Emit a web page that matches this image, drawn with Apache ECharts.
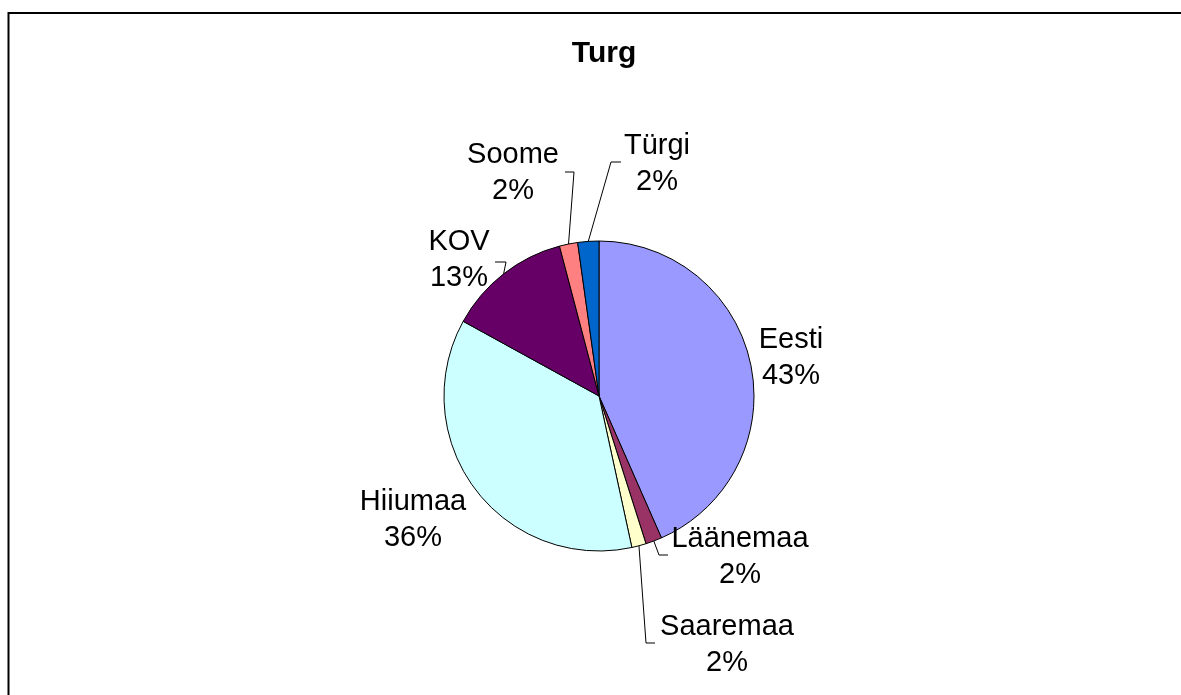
<!DOCTYPE html>
<html>
<head>
<meta charset="utf-8">
<script src="https://cdn.jsdelivr.net/npm/echarts@6/dist/echarts.min.js"></script>
<style>
  html, body { margin: 0; padding: 0; background: #fff; }
  #chart { width: 1181px; height: 695px; }
</style>
</head>
<body>
<div id="chart"></div>
<script>
// data (share of total, %)
const names = ['Eesti', 'Läänemaa', 'Saaremaa', 'Hiiumaa', 'KOV', 'Soome', 'Türgi']
const shares = [43.4, 1.7, 1.5, 36.4, 12.9, 1.9, 2.2]
const colors = ['#9999FF', '#993366', '#FFFFCC', '#CCFFFF', '#660066', '#FF8080', '#0066CC']

// where Excel put the labels (centre of the text block) and the leader elbows
const labelAt = {
  'Eesti': { x: 791, y: 358 },
  'Läänemaa': { x: 740, y: 557, elbow: [659, 555], end: [668, 555] },
  'Saaremaa': { x: 727, y: 645, elbow: [646, 643], end: [655, 643] },
  'Hiiumaa': { x: 413, y: 520 },
  'KOV': { x: 459, y: 260, elbow: [506, 262], end: [495, 262] },
  'Soome': { x: 513, y: 173, elbow: [574, 172], end: [565, 172] },
  'Türgi': { x: 657, y: 164, elbow: [611, 162], end: [621, 162] }
}

const font = '"Liberation Sans", Arial, sans-serif'

let myChart = echarts.init(document.getElementById('chart'))
myChart.setOption({
  backgroundColor: '#fff',
  animation: false,
  title: {
    text: 'Turg',
    left: 599,
    textAlign: 'center',
    top: 34,
    textStyle: { fontFamily: font, fontSize: 30, fontWeight: 'bold', color: '#000' }
  },
  graphic: [{
    type: 'rect',
    shape: { x: 8.5, y: 13, width: 1300, height: 900 },
    style: { fill: 'none', stroke: '#000', lineWidth: 2 },
    silent: true
  }],
  series: [{
    type: 'pie',
    center: [599, 396],
    radius: 155,
    startAngle: 90,
    clockwise: true,
    avoidLabelOverlap: false,
    percentPrecision: 0,
    itemStyle: { borderColor: '#000', borderWidth: 1 },
    label: {
      show: true,
      position: 'outside',
      formatter: '{b}\n{d}%',
      fontFamily: font,
      fontSize: 29,
      lineHeight: 36,
      color: '#000',
      align: 'center'
    },
    labelLine: {
      show: true,
      lineStyle: { color: '#000', width: 1 }
    },
    labelLayout (p) {
      const pos = labelAt[names[p.dataIndex]]
      const out = { x: pos.x, y: pos.y, align: 'center', verticalAlign: 'middle' }
      if (pos.elbow && p.labelLinePoints) {
        out.labelLinePoints = [p.labelLinePoints[0], pos.elbow, pos.end]
      } else {
        out.labelLinePoints = [[0, 0], [0, 0], [0, 0]]
      }
      return out
    },
    emphasis: { disabled: true },
    data: names.map((n, i) => ({
      name: n,
      value: shares[i],
      itemStyle: { color: colors[i] },
      labelLine: { show: !!labelAt[n].elbow }
    }))
  }]
})
</script>
</body>
</html>
